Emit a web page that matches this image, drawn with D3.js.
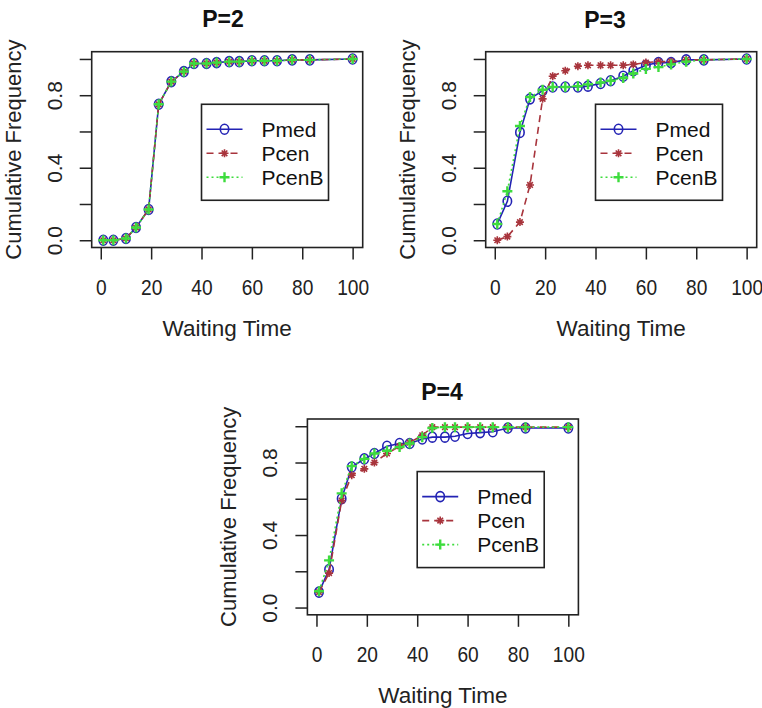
<!DOCTYPE html>
<html>
<head>
<meta charset="utf-8">
<script src="https://cdn.jsdelivr.net/npm/d3@7"></script>
<style>
  body { margin: 0; background: #fff; }
  svg { display: block; font-family: "Liberation Sans", Arial, sans-serif; }
  .tick text { font-size: 21px; fill: #222; }
  .tick line { stroke: #222; stroke-width: 1.5; }
</style>
</head>
<body>
<svg id="chart"></svg>
<script>
  //Waiting times shared by every series
  const waitTimes = [1, 5, 10, 14, 19, 23, 28, 33, 37, 42, 46, 51, 55, 60, 65, 70, 76, 83, 100];

  //P=2 (the three methods overlap almost exactly)
  const pmed2  = [0.00, 0.00, 0.01, 0.07, 0.17, 0.75, 0.875, 0.93, 0.975, 0.975, 0.98, 0.985, 0.985, 0.99, 0.99, 0.99, 0.995, 0.995, 1.0];
  const pcen2  = [0.00, 0.00, 0.01, 0.07, 0.17, 0.75, 0.875, 0.93, 0.975, 0.975, 0.98, 0.985, 0.985, 0.99, 0.99, 0.99, 0.995, 0.995, 1.0];
  const pcenB2 = [0.00, 0.00, 0.01, 0.07, 0.17, 0.75, 0.875, 0.93, 0.975, 0.975, 0.98, 0.985, 0.985, 0.99, 0.99, 0.99, 0.995, 0.995, 1.0];

  //P=3
  const pmed3  = [0.09, 0.215, 0.595, 0.78, 0.825, 0.845, 0.845, 0.845, 0.85, 0.865, 0.88, 0.905, 0.935, 0.965, 0.98, 0.98, 0.995, 0.995, 1.0];
  const pcen3  = [0.00, 0.02, 0.10, 0.305, 0.78, 0.905, 0.935, 0.96, 0.965, 0.965, 0.965, 0.965, 0.97, 0.98, 0.985, 0.985, 0.995, 0.995, 1.0];
  const pcenB3 = [0.09, 0.27, 0.63, 0.79, 0.83, 0.845, 0.845, 0.85, 0.86, 0.87, 0.88, 0.895, 0.92, 0.945, 0.955, 0.97, 0.985, 0.995, 1.0];

  //P=4
  const pmed4  = [0.085, 0.21, 0.60, 0.775, 0.82, 0.85, 0.89, 0.905, 0.905, 0.93, 0.94, 0.94, 0.945, 0.96, 0.965, 0.97, 0.99, 0.99, 0.99];
  const pcen4  = [0.085, 0.19, 0.59, 0.73, 0.765, 0.80, 0.85, 0.89, 0.91, 0.95, 0.995, 0.995, 0.995, 0.995, 0.995, 0.995, 0.995, 0.995, 0.995];
  const pcenB4 = [0.09, 0.26, 0.63, 0.78, 0.82, 0.85, 0.865, 0.885, 0.905, 0.94, 0.99, 0.995, 0.995, 0.995, 0.995, 0.995, 0.995, 0.995, 0.995];

  const seriesNames = ['Pmed', 'Pcen', 'PcenB'];
  const panelTitles = ['P=2', 'P=3', 'P=4'];
  const xTicks = [0, 20, 40, 60, 80, 100];
  const yTicks = [0, 0.2, 0.4, 0.6, 0.8, 1.0];
  const yLabelled = [0, 0.4, 0.8];

  //Look of each method: colour, dash pattern, marker type
  const styles = [
    { color: '#2323b4', dash: null,  marker: 'circle' },
    { color: '#a8343c', dash: '7,5', marker: 'star' },
    { color: '#3ddc3d', dash: '2,3', marker: 'plus' }
  ];

  //Box position of each panel in the page
  const panels = [
    { left: 91.7,  top: 51.7, titleX: 223, titleY: 27,  data: [pmed2, pcen2, pcenB2] },
    { left: 485.7, top: 51.7, titleX: 605, titleY: 28,  data: [pmed3, pcen3, pcenB3] },
    { left: 307.4, top: 419,  titleX: 442, titleY: 400, data: [pmed4, pcen4, pcenB4] }
  ];
  const boxW = 271, boxH = 195.8;

  const svg = d3.select('#chart')
    .attr('width', 762)
    .attr('height', 708);

  svg.append('rect').attr('width', 762).attr('height', 708).attr('fill', '#fff');

  //Draws one marker of the given type centred on 0,0
  function drawMarker(g, type, color) {
    if (type === 'circle') {
      g.append('ellipse')
        .attr('rx', 4.2).attr('ry', 5)
        .attr('fill', 'none')
        .attr('stroke', color)
        .attr('stroke-width', 1.6);
    } else if (type === 'star') {
      const s = 4;
      g.append('path')
        .attr('d', `M${-s},0H${s}M0,${-s}V${s}M${-s * 0.7},${-s * 0.7}L${s * 0.7},${s * 0.7}M${-s * 0.7},${s * 0.7}L${s * 0.7},${-s * 0.7}`)
        .attr('stroke', color)
        .attr('stroke-width', 1.6);
    } else {
      const s = 5;
      g.append('path')
        .attr('d', `M${-s},0H${s}M0,${-s}V${s}`)
        .attr('stroke', color)
        .attr('stroke-width', 2.4);
    }
  }

  panels.forEach((p, i) => {
    const x = d3.scaleLinear().domain([-3.6, 104]).range([p.left, p.left + boxW]);
    const y = d3.scaleLinear().domain([-0.04, 1.04]).range([p.top + boxH, p.top]);

    const g = svg.append('g');

    //Title
    g.append('text')
      .attr('x', p.titleX)
      .attr('y', p.titleY)
      .attr('text-anchor', 'middle')
      .attr('font-size', 23)
      .attr('font-weight', 'bold')
      .attr('fill', '#111')
      .text(panelTitles[i]);

    //x axis
    const xAxis = g.append('g')
      .attr('transform', `translate(0,${p.top + boxH})`)
      .call(d3.axisBottom(x).tickValues(xTicks).tickSize(12).tickSizeOuter(0))
      .attr('font-size', null)
      .attr('font-family', null);
    xAxis.select('.domain').remove();
    xAxis.selectAll('.tick text')
      .attr('y', null)
      .attr('dy', null)
      .attr('transform', 'translate(0,47) scale(0.87,1)')
      .style('font-size', '22px');

    //y axis
    const yAxis = g.append('g')
      .attr('transform', `translate(${p.left},0)`)
      .call(d3.axisLeft(y).tickValues(yTicks).tickSize(12).tickSizeOuter(0)
        .tickFormat(d => yLabelled.some(v => Math.abs(v - d) < 1e-9) ? d3.format('.1f')(d) : ''))
      .attr('font-size', null)
      .attr('font-family', null);
    yAxis.select('.domain').remove();
    yAxis.selectAll('.tick text')
      .attr('transform', 'rotate(-90)')
      .attr('x', 0)
      .attr('y', -30)
      .attr('dy', null)
      .attr('text-anchor', 'middle');

    //Axis titles
    g.append('text')
      .attr('x', p.left + boxW / 2)
      .attr('y', p.top + boxH + 88)
      .attr('text-anchor', 'middle')
      .attr('font-size', 22.5)
      .attr('fill', '#222')
      .text('Waiting Time');

    g.append('text')
      .attr('transform', `translate(${p.left - 71},${p.top + boxH / 2}) rotate(-90)`)
      .attr('text-anchor', 'middle')
      .attr('font-size', 22)
      .attr('fill', '#222')
      .text('Cumulative Frequency');

    //Series lines and markers
    const line = d3.line()
      .x((d, k) => x(waitTimes[k]))
      .y(d => y(d));

    p.data.forEach((vals, s) => {
      const st = styles[s];
      g.append('path')
        .datum(vals)
        .attr('d', line)
        .attr('fill', 'none')
        .attr('stroke', st.color)
        .attr('stroke-width', 1.6)
        .attr('stroke-dasharray', st.dash);

      g.append('g')
        .selectAll('g')
        .data(vals)
        .enter().append('g')
        .attr('transform', (d, k) => `translate(${x(waitTimes[k])},${y(d)})`)
        .each(function () { drawMarker(d3.select(this), st.marker, st.color); });
    });

    //Plot box
    g.append('rect')
      .attr('x', p.left)
      .attr('y', p.top)
      .attr('width', boxW)
      .attr('height', boxH)
      .attr('fill', 'none')
      .attr('stroke', '#222')
      .attr('stroke-width', 1.6);

    //Legend, anchored at data point (40, 0.75)
    const lx = x(40), ly = y(0.75);
    const legend = g.append('g').attr('transform', `translate(${lx},${ly})`);
    legend.append('rect')
      .attr('width', 127)
      .attr('height', 96)
      .attr('fill', '#fff')
      .attr('stroke', '#222')
      .attr('stroke-width', 1.6);

    seriesNames.forEach((name, s) => {
      const st = styles[s];
      const rowY = 25 + s * 24;
      legend.append('line')
        .attr('x1', 5).attr('x2', 41)
        .attr('y1', rowY).attr('y2', rowY)
        .attr('stroke', st.color)
        .attr('stroke-width', 1.6)
        .attr('stroke-dasharray', st.dash);
      drawMarker(legend.append('g').attr('transform', `translate(23,${rowY})`), st.marker, st.color);
      legend.append('text')
        .attr('x', 60)
        .attr('y', rowY + 7.5)
        .attr('font-size', 21)
        .attr('fill', '#111')
        .text(name);
    });
  });
</script>
</body>
</html>
